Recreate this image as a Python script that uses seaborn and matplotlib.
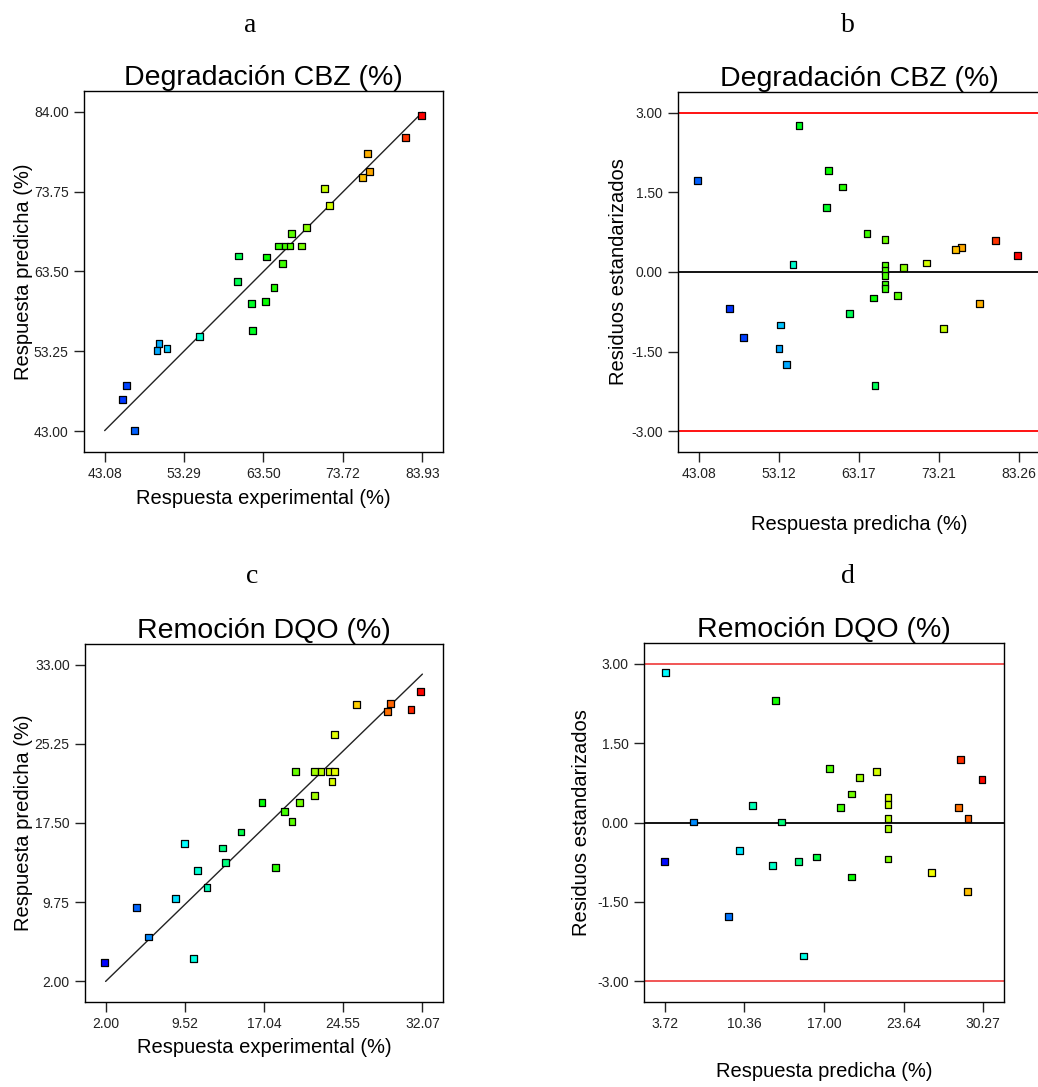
import numpy as np
import matplotlib
matplotlib.use("Agg")
import matplotlib.pyplot as plt
from matplotlib.colors import LinearSegmentedColormap
import seaborn as sns

# Panel a: Degradacion CBZ, predicted vs actual
a_exp = [83.80, 81.75, 76.88, 77.09, 76.20, 71.38, 72.02, 69.03, 67.11, 65.44,
         66.26, 66.90, 68.43, 60.28, 63.91, 65.91, 60.19, 64.85, 61.94, 63.78,
         62.11, 55.24, 50.08, 49.82, 51.10, 45.85, 45.34, 46.92]
a_pred = [83.49, 80.73, 78.62, 76.38, 75.61, 74.19, 71.95, 69.10, 68.37, 66.78,
          66.78, 66.78, 66.78, 65.49, 65.36, 64.50, 62.26, 61.44, 59.37, 59.63,
          55.93, 55.15, 54.29, 53.38, 53.60, 48.91, 47.10, 43.09]
a_xticks = [43.08, 53.29, 63.50, 73.72, 83.93]
a_yticks = [43.00, 53.25, 63.50, 73.75, 84.00]

# Panel b: Degradacion CBZ, residuals vs predicted
b_pred = [55.64, 59.36, 42.91, 61.12, 59.07, 64.18, 66.44, 80.29, 75.98, 75.23,
          83.06, 54.88, 71.59, 66.44, 68.78, 66.44, 66.44, 66.44, 66.44, 68.03,
          64.97, 78.24, 61.96, 46.89, 53.33, 73.80, 48.69, 53.13, 54.05, 65.18]
b_res = [2.76, 1.91, 1.73, 1.60, 1.21, 0.73, 0.61, 0.60, 0.46, 0.42,
         0.31, 0.14, 0.17, 0.13, 0.08, 0.03, -0.06, -0.24, -0.31, -0.44,
         -0.49, -0.59, -0.78, -0.68, -1.00, -1.07, -1.23, -1.44, -1.74, -2.14]
b_xticks = [43.08, 53.12, 63.17, 73.21, 83.26]

# Panel c: Remocion DQO, predicted vs actual
c_exp = [31.91, 30.99, 29.07, 28.75, 25.85, 23.73, 20.00, 21.84, 22.44, 23.29,
         23.76, 23.48, 21.84, 16.85, 20.41, 18.96, 19.69, 14.86, 9.52, 13.09,
         13.37, 18.11, 10.75, 11.63, 8.66, 4.94, 6.07, 10.34, 1.87]
c_pred = [30.37, 28.58, 29.17, 28.39, 29.10, 26.15, 22.51, 22.51, 22.51, 22.51,
          22.51, 21.56, 20.20, 19.48, 19.48, 18.61, 17.66, 16.62, 15.49, 15.06,
          13.60, 13.11, 12.89, 11.20, 10.12, 9.21, 6.35, 4.21, 3.82]
c_xticks = [2.00, 9.52, 17.04, 24.55, 32.07]
c_yticks = [2.00, 9.75, 17.50, 25.25, 33.00]

# Panel d: Remocion DQO, residuals vs predicted
d_pred = [3.80, 3.72, 12.93, 28.38, 30.16, 17.45, 21.36, 19.97, 19.28, 22.33,
          22.33, 11.02, 18.37, 28.21, 28.99, 6.13, 13.43, 22.33, 22.33, 9.93,
          12.68, 14.84, 16.40, 22.33, 19.28, 25.97, 28.94, 9.02, 15.31]
d_res = [2.84, -0.74, 2.31, 1.19, 0.81, 1.02, 0.97, 0.85, 0.54, 0.47,
         0.34, 0.32, 0.28, 0.28, 0.08, 0.01, 0.01, 0.07, -0.12, -0.53,
         -0.81, -0.74, -0.65, -0.69, -1.03, -0.94, -1.31, -1.77, -2.52]
d_xticks = [3.72, 10.36, 17.00, 23.64, 30.27]

res_yticks = [-3.00, -1.50, 0.00, 1.50, 3.00]

sns.set_theme(style="ticks")
plt.rcParams['font.family'] = ['Liberation Sans', 'DejaVu Sans']
plt.rcParams['axes.edgecolor'] = 'black'
plt.rcParams['axes.linewidth'] = 1.0
plt.rcParams['text.color'] = 'black'
plt.rcParams['axes.labelcolor'] = 'black'

# blue -> cyan -> green -> yellow -> red, colour by response
cmap = LinearSegmentedColormap.from_list(
    "de", ["#0000ff", "#00ffff", "#00ff00", "#ffff00", "#ff0000"])

fig = plt.figure(figsize=(10.38, 10.87), dpi=100)
W, H = 1038.0, 1087.0


def make_ax(left, top, right, bottom):
    return fig.add_axes([left / W, 1 - bottom / H, (right - left) / W, (bottom - top) / H])


def style_ax(ax, xt, yt, title, xlabel, ylabel, ylab_x, xlab_y, pad=0.065):
    xs = xt[-1] - xt[0]
    ys = yt[-1] - yt[0]
    ax.set_xlim(xt[0] - pad * xs, xt[-1] + pad * xs)
    ax.set_ylim(yt[0] - pad * ys, yt[-1] + pad * ys)
    ax.set_xticks(xt)
    ax.set_xticklabels(["%.2f" % v for v in xt])
    ax.set_yticks(yt)
    ax.set_yticklabels(["%.2f" % v for v in yt])
    ax.tick_params(direction='out', length=7, width=1.0, labelsize=10,
                   colors='#222222', pad=4)
    for sp in ax.spines.values():
        sp.set_visible(True)
        sp.set_color('black')
    ax.text(0.5, 1.018, title, transform=ax.transAxes, ha='center',
            va='baseline', fontsize=20.5, color='black')
    ax.set_xlabel(xlabel, fontsize=14.5)
    ax.set_ylabel(ylabel, fontsize=14.5)
    ax.yaxis.set_label_coords(ylab_x, 0.5)
    ax.xaxis.set_label_coords(0.5, xlab_y)


def points(ax, x, y, hue, lo, hi):
    sns.scatterplot(x=x, y=y, hue=hue, palette=cmap, hue_norm=(lo, hi),
                    marker='s', s=24, edgecolor='black', linewidth=0.9,
                    legend=False, ax=ax, zorder=3)


# a
ax_a = make_ax(84, 91, 443, 452)
ax_a.plot([a_xticks[0], a_xticks[-1]], [a_xticks[0], a_xticks[-1]], color='#222222', lw=1.0)
points(ax_a, a_exp, a_pred, a_exp, a_xticks[0], a_xticks[-1])
style_ax(ax_a, a_xticks, a_yticks, "Degradación CBZ (%)",
         "Respuesta experimental (%)", "Respuesta predicha (%)", -0.142, -0.103)

# b  (colour by approx. actual = predicted + residual * s)
b_act = np.array(b_pred) + 2.4 * np.array(b_res)
ax_b = make_ax(678, 92, 1040, 452)
ax_b.axhline(0, color='black', lw=1.3)
ax_b.axhline(3, color='red', lw=1.3)
ax_b.axhline(-3, color='red', lw=1.3)
points(ax_b, b_pred, b_res, b_act, a_xticks[0], a_xticks[-1])
style_ax(ax_b, b_xticks, res_yticks, "Degradación CBZ (%)",
         "Respuesta predicha (%)", "Residuos estandarizados", -0.138, -0.175)

# c
ax_c = make_ax(85, 644, 443, 1002)
ax_c.plot([c_xticks[0], c_xticks[-1]], [c_xticks[0], c_xticks[-1]], color='#222222', lw=1.0)
points(ax_c, c_exp, c_pred, c_exp, c_xticks[0], c_xticks[-1])
style_ax(ax_c, c_xticks, c_yticks, "Remoción DQO (%)",
         "Respuesta experimental (%)", "Respuesta predicha (%)", -0.145, -0.101)

# d
d_act = np.array(d_pred) + 2.0 * np.array(d_res)
ax_d = make_ax(644, 643, 1004, 1002)
ax_d.axhline(0, color='black', lw=1.3)
ax_d.axhline(3, color='#f04848', lw=1.3)
ax_d.axhline(-3, color='#f04848', lw=1.3)
points(ax_d, d_pred, d_res, d_act, c_xticks[0], c_xticks[-1])
style_ax(ax_d, d_xticks, res_yticks, "Remoción DQO (%)",
         "Respuesta predicha (%)", "Residuos estandarizados", -0.147, -0.167)

# panel letters
for lab, px, py in [("a", 250, 32), ("b", 848, 32), ("c", 252, 583), ("d", 848, 583)]:
    fig.text(px / W, 1 - py / H, lab, ha='center', va='baseline', fontsize=20,
             family=['Liberation Serif', 'DejaVu Serif'])

fig.savefig("out.png", dpi=100)
